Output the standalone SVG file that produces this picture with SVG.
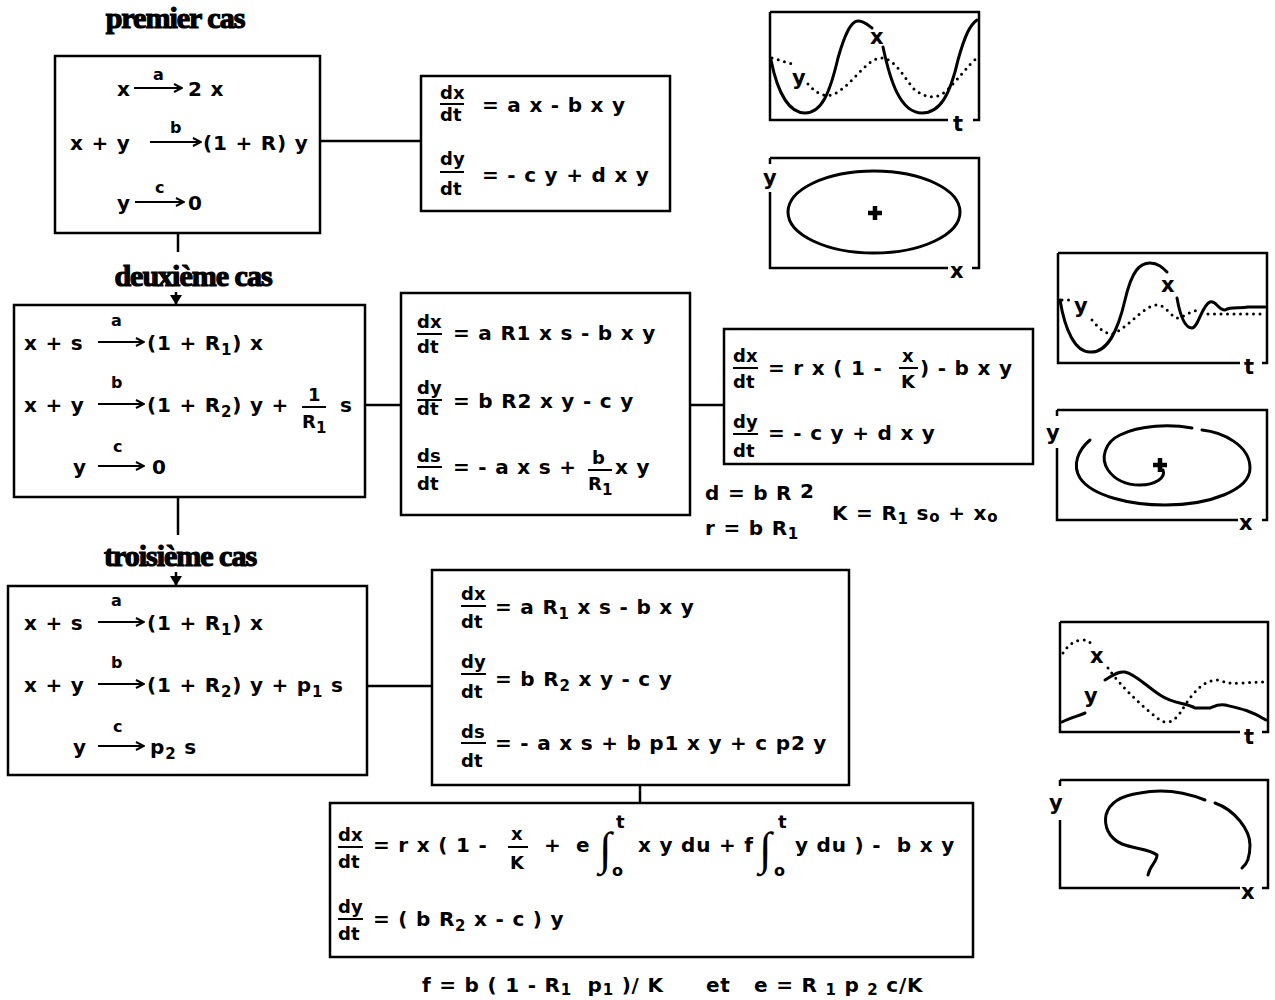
<svg xmlns="http://www.w3.org/2000/svg" width="1275" height="1000" viewBox="0 0 1275 1000" xml:space="preserve">
<style>
.bg{fill:#fff}
.box{fill:none;stroke:#000;stroke-width:2.5}
.ln{fill:none;stroke:#000;stroke-width:2.5}
.t{font-family:"DejaVu Sans",sans-serif;font-weight:bold;font-size:20px;fill:#000;letter-spacing:0.8px;white-space:pre}
.f{font-family:"DejaVu Sans",sans-serif;font-weight:bold;font-size:18px;fill:#000}
.lab{font-family:"DejaVu Sans",sans-serif;font-weight:bold;font-size:16px;fill:#000}
.sub{font-size:15px}
.h{font-family:"Liberation Serif",serif;font-weight:bold;font-size:30px;fill:#000;stroke:#000;stroke-width:1.2;letter-spacing:-1px}
.bar{stroke:#000;stroke-width:2}
.rx{fill:none;stroke:#000;stroke-width:2;marker-end:url(#ah)}
.sol{fill:none;stroke:#000;stroke-width:3;stroke-linecap:round}
.dot{fill:none;stroke:#000;stroke-width:3;stroke-linecap:round;stroke-dasharray:0 6.5}
.fr{fill:none;stroke:#000;stroke-width:2.5}
.pl{font-family:"DejaVu Sans",sans-serif;font-weight:bold;font-size:21px;fill:#000}
.int{font-family:"Liberation Serif",serif;font-size:46px;fill:#000}
</style>
<defs>
<marker id="ah" viewBox="0 0 10 10" refX="9" refY="5" markerWidth="10" markerHeight="10" markerUnits="userSpaceOnUse" orient="auto">
<path d="M1,1 L9,5 L1,9" fill="none" stroke="#000" stroke-width="2"/>
</marker>
<marker id="dn" viewBox="0 0 10 12" refX="10" refY="6" markerWidth="10" markerHeight="12" markerUnits="userSpaceOnUse" orient="auto">
<path d="M0,0 L10,6 L0,12 Z" fill="#000"/>
</marker>
</defs>
<rect class="bg" x="0" y="0" width="1275" height="1000"/>

<g id="connectors">
<path class="ln" d="M320,141 H421"/>
<path class="ln" d="M178,233 V252"/>
<path class="ln" d="M176,292 V305" marker-end="url(#dn)"/>
<path class="ln" d="M178,497 V535"/>
<path class="ln" d="M176,572 V586" marker-end="url(#dn)"/>
<path class="ln" d="M365,405 H401"/>
<path class="ln" d="M690,405 H724"/>
<path class="ln" d="M367,686 H432"/>
<path class="ln" d="M640,785 V803"/>
</g>

<g id="titles">
<text class="h" x="175" y="28" text-anchor="middle">premier cas</text>
<text class="h" x="193" y="286" text-anchor="middle">deuxième cas</text>
<text class="h" x="180" y="566" text-anchor="middle">troisième cas</text>
</g>

<g id="reactions1">
<rect class="box" x="55" y="56" width="265" height="177"/>
<text class="t" x="117" y="96">x</text>
<path class="rx" d="M134,88 H182"/>
<text class="lab" x="153" y="80">a</text>
<text class="t" x="188" y="96">2 x</text>
<text class="t" x="70" y="150">x + y</text>
<path class="rx" d="M150,142 H201"/>
<text class="lab" x="170" y="133">b</text>
<text class="t" x="203" y="150">(1 + R) y</text>
<text class="t" x="117" y="210">y</text>
<path class="rx" d="M135,202 H184"/>
<text class="lab" x="155" y="193">c</text>
<text class="t" x="188" y="210">0</text>
</g>

<g id="equations1">
<rect class="box" x="421" y="76" width="249" height="135"/>
<text class="f" x="440" y="99">dx</text>
<line class="bar" x1="440" y1="104" x2="464" y2="104"/>
<text class="f" x="440" y="121">dt</text>
<text class="t" x="482" y="112">= a x - b x y</text>
<text class="f" x="440" y="165">dy</text>
<line class="bar" x1="440" y1="172" x2="464" y2="172"/>
<text class="f" x="440" y="195">dt</text>
<text class="t" x="482" y="182">= - c y + d x y</text>
</g>

<g id="reactions2">
<rect class="box" x="14" y="305" width="351" height="192"/>
<text class="t" x="24" y="350">x + s</text>
<path class="rx" d="M98,342 H144"/>
<text class="lab" x="111" y="326">a</text>
<text class="t" x="147" y="350">(1 + R<tspan class="sub" dy="5">1</tspan><tspan dy="-5">) x</tspan></text>
<text class="t" x="24" y="412">x + y</text>
<path class="rx" d="M98,404 H144"/>
<text class="lab" x="111" y="388">b</text>
<text class="t" x="147" y="412">(1 + R<tspan class="sub" dy="5">2</tspan><tspan dy="-5">) y +</tspan></text>
<text class="f" x="308" y="401">1</text>
<line class="bar" x1="302" y1="407" x2="326" y2="407"/>
<text class="f" x="302" y="428">R<tspan class="sub" dy="5">1</tspan></text>
<text class="t" x="340" y="412">s</text>
<text class="t" x="73" y="474">y</text>
<path class="rx" d="M98,466 H144"/>
<text class="lab" x="113" y="452">c</text>
<text class="t" x="152" y="474">0</text>
</g>

<g id="equations2">
<rect class="box" x="401" y="293" width="289" height="222"/>
<text class="f" x="417" y="328">dx</text>
<line class="bar" x1="417" y1="334" x2="442" y2="334"/>
<text class="f" x="417" y="353">dt</text>
<text class="t" x="453" y="340">= a R1 x s - b x y</text>
<text class="f" x="417" y="394">dy</text>
<line class="bar" x1="417" y1="400" x2="442" y2="400"/>
<text class="f" x="417" y="415">dt</text>
<text class="t" x="453" y="408">= b R2 x y - c y</text>
<text class="f" x="417" y="462">ds</text>
<line class="bar" x1="417" y1="467" x2="442" y2="467"/>
<text class="f" x="417" y="490">dt</text>
<text class="t" x="453" y="474">= - a x s +</text>
<text class="f" x="592" y="464">b</text>
<line class="bar" x1="588" y1="470" x2="612" y2="470"/>
<text class="f" x="588" y="490">R<tspan class="sub" dy="5">1</tspan></text>
<text class="t" x="615" y="474">x y</text>
</g>

<g id="equations3">
<rect class="box" x="724" y="329" width="309" height="135"/>
<text class="f" x="733" y="362">dx</text>
<line class="bar" x1="733" y1="368" x2="758" y2="368"/>
<text class="f" x="733" y="388">dt</text>
<text class="t" x="768" y="375">= r x ( 1 -</text>
<text class="f" x="902" y="362">x</text>
<line class="bar" x1="899" y1="368" x2="918" y2="368"/>
<text class="f" x="901" y="388">K</text>
<text class="t" x="920" y="375">) - b x y</text>
<text class="f" x="733" y="428">dy</text>
<line class="bar" x1="733" y1="434" x2="758" y2="434"/>
<text class="f" x="733" y="457">dt</text>
<text class="t" x="768" y="440">= - c y + d x y</text>
</g>

<g id="parameters2">
<text class="t" x="705" y="500">d = b R <tspan dy="-2">2</tspan></text>
<text class="t" x="705" y="535">r = b R<tspan class="sub" dy="4">1</tspan></text>
<text class="t" x="832" y="520">K = R<tspan class="sub" dy="4">1</tspan><tspan dy="-4"> s</tspan><tspan class="sub" dy="2">o</tspan><tspan dy="-2"> + x</tspan><tspan class="sub" dy="2">o</tspan></text>
</g>

<g id="reactions3">
<rect class="box" x="8" y="586" width="359" height="189"/>
<text class="t" x="24" y="630">x + s</text>
<path class="rx" d="M98,622 H144"/>
<text class="lab" x="111" y="606">a</text>
<text class="t" x="147" y="630">(1 + R<tspan class="sub" dy="5">1</tspan><tspan dy="-5">) x</tspan></text>
<text class="t" x="24" y="692">x + y</text>
<path class="rx" d="M98,684 H144"/>
<text class="lab" x="111" y="668">b</text>
<text class="t" x="147" y="692">(1 + R<tspan class="sub" dy="5">2</tspan><tspan dy="-5">) y + p</tspan><tspan class="sub" dy="5">1</tspan><tspan dy="-5"> s</tspan></text>
<text class="t" x="73" y="754">y</text>
<path class="rx" d="M98,746 H144"/>
<text class="lab" x="113" y="732">c</text>
<text class="t" x="150" y="754">p<tspan class="sub" dy="5">2</tspan><tspan dy="-5"> s</tspan></text>
</g>

<g id="equations4">
<rect class="box" x="432" y="570" width="417" height="215"/>
<text class="f" x="461" y="600">dx</text>
<line class="bar" x1="461" y1="606" x2="486" y2="606"/>
<text class="f" x="461" y="628">dt</text>
<text class="t" x="495" y="614">= a R<tspan class="sub" dy="5">1</tspan><tspan dy="-5"> x s - b x y</tspan></text>
<text class="f" x="461" y="668">dy</text>
<line class="bar" x1="461" y1="674" x2="486" y2="674"/>
<text class="f" x="461" y="698">dt</text>
<text class="t" x="495" y="686">= b R<tspan class="sub" dy="5">2</tspan><tspan dy="-5"> x y - c y</tspan></text>
<text class="f" x="461" y="738">ds</text>
<line class="bar" x1="461" y1="743" x2="486" y2="743"/>
<text class="f" x="461" y="767">dt</text>
<text class="t" x="495" y="750">= - a x s + b p1 x y + c p2 y</text>
</g>

<g id="equations5">
<rect class="box" x="330" y="803" width="643" height="154"/>
<text class="f" x="338" y="841">dx</text>
<line class="bar" x1="338" y1="847" x2="363" y2="847"/>
<text class="f" x="338" y="868">dt</text>
<text class="t" x="373" y="852">= r x ( 1 -</text>
<text class="f" x="511" y="840">x</text>
<line class="bar" x1="508" y1="847" x2="528" y2="847"/>
<text class="f" x="510" y="869">K</text>
<text class="t" x="544" y="852">+</text>
<text class="t" x="576" y="852">e</text>
<text class="int" x="599" y="864">∫</text>
<text class="f" x="616" y="828">t</text>
<text class="lab" x="612" y="876">o</text>
<text class="t" x="638" y="852">x y du + f</text>
<text class="int" x="759" y="864">∫</text>
<text class="f" x="778" y="828">t</text>
<text class="lab" x="774" y="876">o</text>
<text class="t" x="795" y="852">y du ) -  b x y</text>
<text class="f" x="338" y="913">dy</text>
<line class="bar" x1="338" y1="919" x2="363" y2="919"/>
<text class="f" x="338" y="940">dt</text>
<text class="t" x="373" y="926">= ( b R<tspan class="sub" dy="5">2</tspan><tspan dy="-5"> x - c ) y</tspan></text>
</g>

<g id="parameters3">
<text class="t" x="422" y="992">f = b ( 1 - R<tspan class="sub" dy="3">1</tspan><tspan dy="-3">  p</tspan><tspan class="sub" dy="3">1</tspan><tspan dy="-3"> )/ K</tspan></text>
<text class="t" x="706" y="992">et</text>
<text class="t" x="754" y="992">e = R <tspan class="sub" dy="3">1</tspan><tspan dy="-3"> p </tspan><tspan class="sub" dy="3">2</tspan><tspan dy="-3"> c/K</tspan></text>
</g>

<g id="plot1">
<path class="fr" d="M770,12 H979 V120 H973 M770,12 V120 H948"/>
<text class="pl" x="953" y="131">t</text>
<path class="sol" d="M771,60 C778,95 790,113 805,113 C822,113 830,92 838,58 C846,30 852,21 858,21 C864,21 868,25 872,28 M883,47 C890,80 900,113 922,113 C940,113 950,95 958,60 C965,35 970,25 977,20"/>
<text class="pl" x="870" y="44">x</text>
<path class="dot" d="M772,58 L792,64 M808,84 C815,92 822,97 832,95 C850,88 865,60 880,58 C895,57 905,80 915,90 C925,97 935,100 945,92 C958,80 968,65 977,58"/>
<text class="pl" x="792" y="85">y</text>
</g>

<g id="plot2">
<path class="fr" d="M770,158 H979 V268 H972 M770,158 V164 M770,192 V268 H948"/>
<text class="pl" x="763" y="185">y</text>
<text class="pl" x="950" y="278">x</text>
<ellipse class="sol" cx="874" cy="212" rx="86" ry="41"/>
<path d="M875,206 V220 M868,213 H882" stroke="#000" stroke-width="4.5"/>
</g>

<g id="plot3">
<path class="fr" d="M1058,253 H1267 V363 H1262 M1058,253 V363 H1240"/>
<text class="pl" x="1244" y="374">t</text>
<path class="sol" d="M1060,300 C1065,330 1075,352 1090,352 C1108,353 1118,330 1125,300 C1132,270 1140,263 1150,263 C1158,263 1163,268 1167,272 M1177,298 C1180,315 1185,328 1192,328 C1198,328 1202,305 1210,302 C1216,300 1218,310 1225,310 C1232,306 1240,309 1248,307 L1265,307"/>
<text class="pl" x="1161" y="292">x</text>
<path class="dot" d="M1062,300 L1072,300 M1092,320 C1100,330 1108,336 1115,333 C1130,325 1145,305 1157,305 C1167,305 1172,320 1180,318 C1188,313 1195,310 1200,310 M1208,314 H1265"/>
<text class="pl" x="1074" y="313">y</text>
</g>

<g id="plot4">
<path class="fr" d="M1057,410 H1267 V520 H1262 M1057,410 V416 M1057,448 V520 H1238"/>
<text class="pl" x="1046" y="440">y</text>
<text class="pl" x="1239" y="530">x</text>
<path class="sol" d="M1090,440 C1078,450 1072,465 1080,478 C1092,496 1130,505 1165,505 C1210,505 1250,490 1250,468 C1250,445 1222,432 1202,430 M1192,428 C1170,424 1140,425 1120,435 C1105,442 1100,458 1108,470 C1115,480 1125,485 1140,485 C1155,485 1166,478 1163,470"/>
<path d="M1160,458 V472 M1153,465 H1167" stroke="#000" stroke-width="4.5"/>
</g>

<g id="plot5">
<path class="fr" d="M1060,622 H1268 V732 H1262 M1060,622 V732 H1240"/>
<text class="pl" x="1244" y="744">t</text>
<path class="dot" d="M1063,653 C1068,645 1075,640 1083,640 C1088,640 1090,642 1092,645 M1108,668 C1120,685 1140,705 1160,720 C1170,726 1178,718 1185,705 C1195,690 1205,680 1218,680 C1225,682 1230,684 1240,683 L1265,682"/>
<path class="sol" d="M1062,722 C1070,718 1078,716 1085,713 M1105,680 C1112,676 1118,671 1125,672 C1135,674 1145,685 1160,695 C1175,705 1185,702 1195,708 L1210,708 C1215,706 1218,704 1225,705 C1238,708 1250,710 1266,720"/>
<text class="pl" x="1090" y="663">x</text>
<text class="pl" x="1084" y="703">y</text>
</g>

<g id="plot6">
<path class="fr" d="M1060,780 H1268 V888 H1262 M1060,780 V786 M1060,820 V888 H1240"/>
<text class="pl" x="1049" y="810">y</text>
<text class="pl" x="1241" y="899">x</text>
<path class="sol" d="M1148,875 C1150,865 1157,862 1157,855 C1150,849 1135,849 1122,844 C1108,838 1104,825 1106,815 C1110,800 1125,795 1140,793 C1160,789 1180,790 1205,800 M1215,803 C1235,810 1250,830 1250,845 C1250,860 1246,865 1242,868"/>
</g>
</svg>
